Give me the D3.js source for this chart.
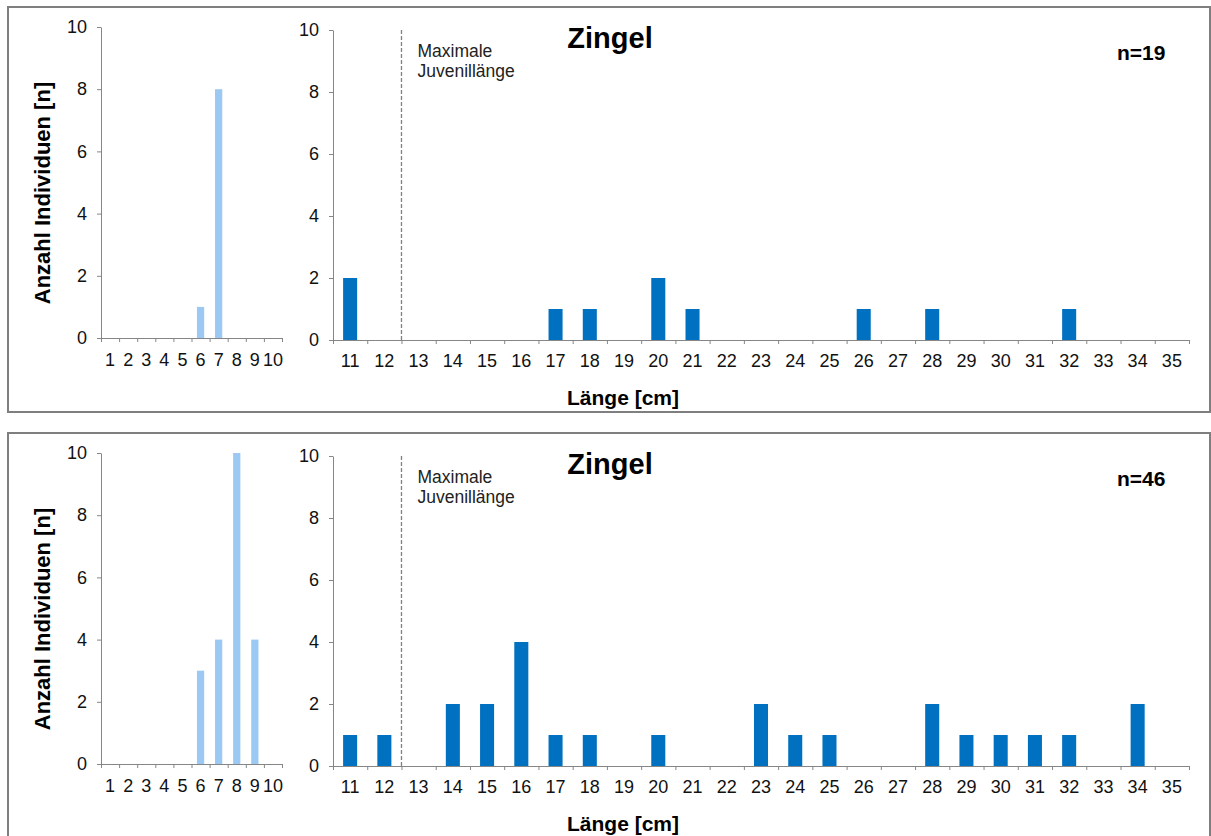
<!DOCTYPE html>
<html>
<head>
<meta charset="utf-8">
<script src="https://cdn.jsdelivr.net/npm/d3@7"></script>
<style>
  body { margin: 0; background: #fff; }
  svg { font-family: "Liberation Sans", Arial, sans-serif; }
  .axis path, .axis line { stroke: #868686; }
  .axis text { fill: #111; font-size: 18px; }
</style>
</head>
<body>
<svg id="chart" width="1211" height="836"></svg>
<script>
// categories
var juvCats = [1, 2, 3, 4, 5, 6, 7, 8, 9, 10];
var adultCats = d3.range(11, 36); // 11..35 cm
var yTicks = [0, 2, 4, 6, 8, 10];

// panel 1 (n=19)
var juv1 = [0, 0, 0, 0, 0, 1, 8, 0, 0, 0];
var adult1 = [2, 0, 0, 0, 0, 0, 1, 1, 0, 2, 1, 0, 0, 0, 0, 1, 0, 1, 0, 0, 0, 1, 0, 0, 0];
// panel 2 (n=46)
var juv2 = [0, 0, 0, 0, 0, 3, 4, 10, 4, 0];
var adult2 = [1, 1, 0, 2, 2, 4, 1, 1, 0, 1, 0, 0, 2, 1, 1, 0, 0, 2, 1, 1, 1, 1, 0, 2, 0];

var titles = ["Zingel", "Zingel"];
var nLabels = ["n=19", "n=46"];
var juvLimit = 12.5; // Maximale Juvenillänge

var svg = d3.select("#chart");

function drawPanel(oy, juv, adult, title, nLabel) {
    var g = svg.append("g").attr("transform", "translate(0," + oy + ")");

    g.append("rect")
        .attr("x", 8).attr("y", 7)
        .attr("width", 1202).attr("height", 405)
        .attr("fill", "none")
        .attr("stroke", "#7f7f7f")
        .attr("stroke-width", 2);

    // small chart (juveniles)
    var xs = d3.scaleBand().domain(juvCats).range([101, 282]).paddingInner(0.6).paddingOuter(0.3);
    var xsLin = d3.scaleLinear().domain([0, juvCats.length]).range([101, 282]);
    var ys = d3.scaleLinear().domain([0, 10]).range([338, 27]);

    g.selectAll(".juv").data(juv).enter().append("rect")
        .attr("x", function(d, i) { return xs(juvCats[i]); })
        .attr("y", function(d) { return ys(d); })
        .attr("width", xs.bandwidth())
        .attr("height", function(d) { return ys(0) - ys(d); })
        .attr("fill", "#9cc8f4");

    g.append("g").attr("class", "axis")
        .attr("transform", "translate(101,0)")
        .call(d3.axisLeft(ys).tickValues(yTicks).tickSize(4).tickPadding(10).tickSizeOuter(0));

    g.append("g").attr("class", "axis")
        .attr("transform", "translate(0,338)")
        .call(d3.axisBottom(xsLin).tickValues(d3.range(0, juvCats.length + 1)).tickFormat("").tickSize(4).tickSizeOuter(0));

    var lx = g.append("g").attr("class", "axis")
        .attr("transform", "translate(0,338)")
        .call(d3.axisBottom(xs).tickSize(0).tickPadding(15));
    lx.select(".domain").remove();

    g.append("text")
        .attr("transform", "translate(50,193) rotate(-90)")
        .attr("text-anchor", "middle")
        .style("font-size", "22px")
        .style("font-weight", "bold")
        .text("Anzahl Individuen [n]");

    // big chart
    var xb = d3.scaleBand().domain(adultCats).range([333, 1189]).paddingInner(0.59).paddingOuter(0.295);
    var xbLin = d3.scaleLinear().domain([0, adultCats.length]).range([333, 1189]);
    var yb = d3.scaleLinear().domain([0, 10]).range([340, 30]);

    g.selectAll(".adult").data(adult).enter().append("rect")
        .attr("x", function(d, i) { return xb(adultCats[i]); })
        .attr("y", function(d) { return yb(d); })
        .attr("width", xb.bandwidth())
        .attr("height", function(d) { return yb(0) - yb(d); })
        .attr("fill", "#0070c0");

    g.append("g").attr("class", "axis")
        .attr("transform", "translate(333,0)")
        .call(d3.axisLeft(yb).tickValues(yTicks).tickSize(4).tickPadding(10).tickSizeOuter(0));

    g.append("g").attr("class", "axis")
        .attr("transform", "translate(0,340)")
        .call(d3.axisBottom(xbLin).tickValues(d3.range(0, adultCats.length + 1)).tickFormat("").tickSize(4).tickSizeOuter(0));

    var lb = g.append("g").attr("class", "axis")
        .attr("transform", "translate(0,340)")
        .call(d3.axisBottom(xb).tickSize(0).tickPadding(14));
    lb.select(".domain").remove();

    // juvenile limit line
    var lim = xbLin(juvLimit - 10.5);
    g.append("line")
        .attr("x1", lim).attr("x2", lim)
        .attr("y1", yb(10)).attr("y2", yb(0))
        .attr("stroke", "#808080")
        .attr("stroke-width", 1.3)
        .attr("stroke-dasharray", "4,2");

    var t = g.append("text")
        .attr("x", lim + 16).attr("y", 57)
        .style("font-size", "17.5px")
        .attr("fill", "#222");
    t.append("tspan").attr("x", lim + 16).text("Maximale");
    t.append("tspan").attr("x", lim + 16).attr("dy", 20).text("Juvenillänge");

    g.append("text")
        .attr("x", 610).attr("y", 48)
        .attr("text-anchor", "middle")
        .style("font-size", "29px")
        .style("font-weight", "bold")
        .text(title);

    g.append("text")
        .attr("x", 1117).attr("y", 60)
        .style("font-size", "21px")
        .style("font-weight", "bold")
        .text(nLabel);

    g.append("text")
        .attr("x", 623).attr("y", 405)
        .attr("text-anchor", "middle")
        .style("font-size", "21px")
        .style("font-weight", "bold")
        .text("Länge [cm]");
}

drawPanel(0, juv1, adult1, titles[0], nLabels[0]);
drawPanel(426, juv2, adult2, titles[1], nLabels[1]);
</script>
</body>
</html>
